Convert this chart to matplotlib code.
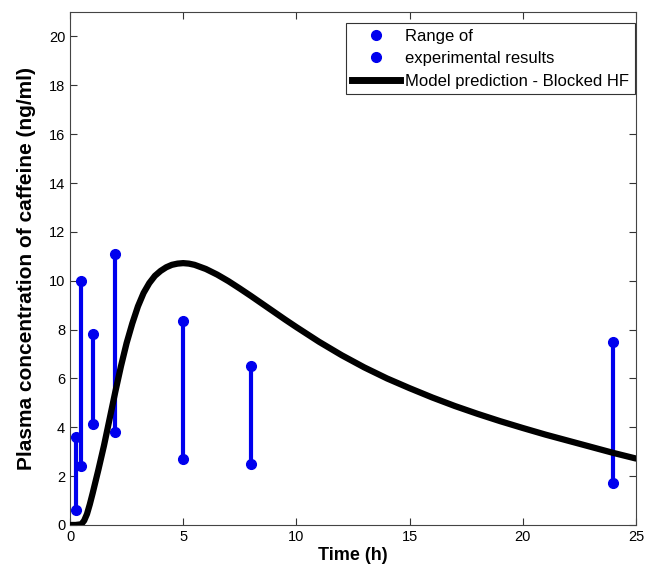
import matplotlib
matplotlib.use("Agg")
import matplotlib.pyplot as plt
from matplotlib.lines import Line2D

plt.rcParams['font.family'] = ['Liberation Sans', 'DejaVu Sans']

# Experimental ranges
exp_time = [0.25, 0.5, 1.0, 2.0, 5.0, 8.0, 24.0]
exp_low = [0.6, 2.4, 4.15, 3.8, 2.7, 2.5, 1.7]
exp_high = [3.6, 10.0, 7.8, 11.1, 8.35, 6.5, 7.5]

# Model prediction
model_time = [0, 0.25, 0.5, 0.625, 0.75, 0.875, 1.0, 1.25, 1.5, 1.75, 2.0, 2.25, 2.5,
              2.75, 3.0, 3.25, 3.5, 3.75, 4.0, 4.25, 4.5, 4.75, 5.0, 5.25, 5.5, 6.0,
              6.5, 7.0, 7.5, 8.0, 8.5, 9.0, 9.5, 10.0, 11.0, 12.0, 13.0, 14.0, 15.0,
              16.0, 17.0, 18.0, 19.0, 20.0, 21.0, 22.0, 23.0, 24.0, 25.0]
model_conc = [0, 0, 0.03, 0.18, 0.45, 0.85, 1.3, 2.25, 3.25, 4.35, 5.45, 6.5, 7.45,
              8.25, 8.95, 9.5, 9.9, 10.2, 10.4, 10.55, 10.65, 10.7, 10.72, 10.7, 10.65, 10.48,
              10.25, 9.98, 9.68, 9.37, 9.05, 8.73, 8.41, 8.1, 7.5, 6.95, 6.45, 6.0, 5.6,
              5.22, 4.87, 4.55, 4.25, 3.97, 3.7, 3.45, 3.2, 2.95, 2.72]

xticks = [0, 5, 10, 15, 20, 25]
yticks = [0, 2, 4, 6, 8, 10, 12, 14, 16, 18, 20]

fig = plt.figure(figsize=(6.46, 5.72), dpi=100)
ax = fig.add_axes([0.1084, 0.0822, 0.8761, 0.8968])

for t, lo, hi in zip(exp_time, exp_low, exp_high):
    ax.plot([t, t], [lo, hi], color='#0000ee', lw=3, marker='o', ms=7,
            solid_capstyle='butt', zorder=3)

ax.plot(model_time, model_conc, color='black', lw=4.5, solid_capstyle='round',
        solid_joinstyle='round', zorder=4)

ax.set_xlim(0, 25)
ax.set_ylim(0, 21)
ax.set_xticks(xticks)
ax.set_yticks(yticks)
ax.tick_params(direction='in', top=True, right=True, labelsize=10.5, length=5, color='#333333')
for s in ax.spines.values():
    s.set_color('#444444')
    s.set_linewidth(0.8)

ax.set_xlabel('Time (h)', fontsize=13, fontweight='bold', labelpad=2)
ax.set_ylabel('Plasma concentration of caffeine (ng/ml)', fontsize=15, fontweight='bold', labelpad=9)

handles = [
    Line2D([], [], color='#0000ee', marker='o', ls='none', ms=7),
    Line2D([], [], color='#0000ee', marker='o', ls='none', ms=7),
    Line2D([], [], color='black', lw=5),
]
labels = ['Range of', 'experimental results', 'Model prediction - Blocked HF']
leg = ax.legend(handles, labels, loc='upper right', bbox_to_anchor=(0.998, 0.979),
                fontsize=12, fancybox=False, framealpha=1, edgecolor='#333333',
                borderaxespad=0, handlelength=2.9, handletextpad=0.3,
                labelspacing=0.45, borderpad=0.35)
leg.get_frame().set_linewidth(0.8)

fig.savefig('out.png', dpi=100)
